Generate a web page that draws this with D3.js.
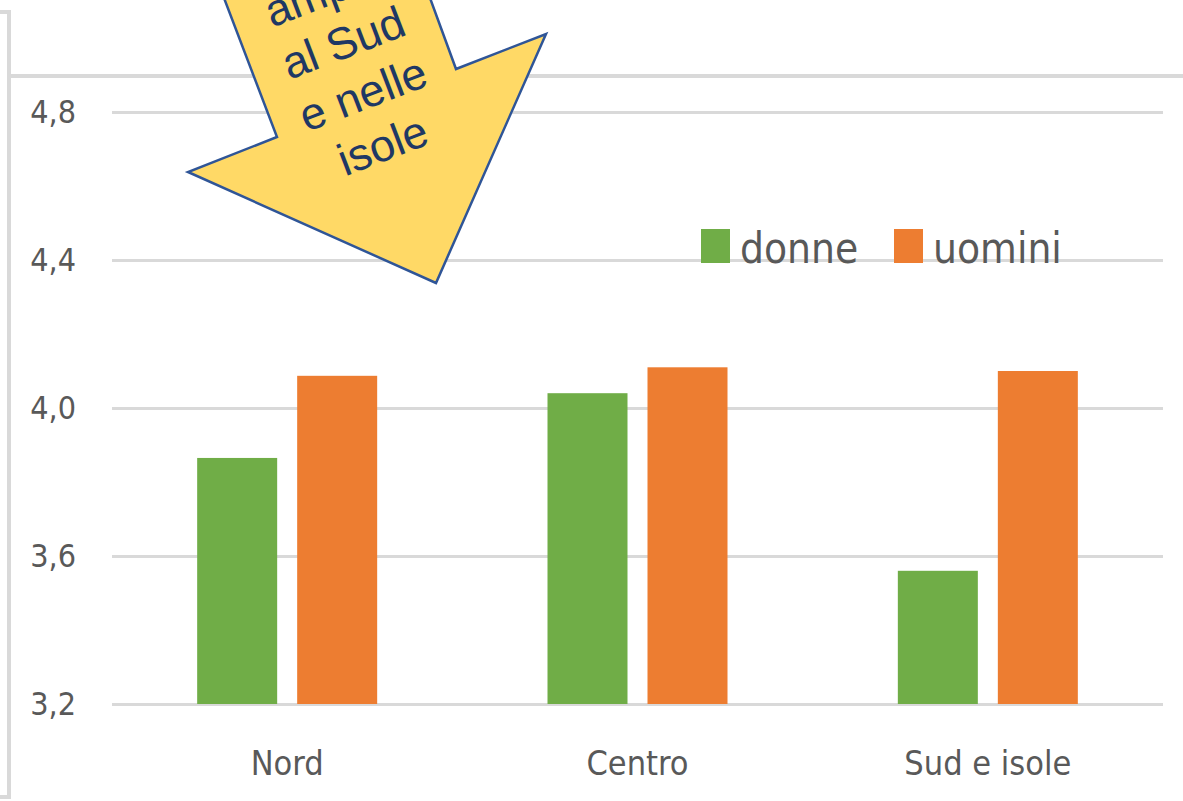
<!DOCTYPE html>
<html>
<head>
<meta charset="utf-8">
<script src="https://cdn.jsdelivr.net/npm/d3@7"></script>
<style>
  body { margin: 0; background: #fff; }
  svg { display: block; }
  .axis text { fill: #595959; font-family: "Liberation Sans Narrow", "DejaVu Sans Condensed", sans-serif; }
  .grid line { stroke: #d9d9d9; stroke-width: 3; }
  .frame { stroke: #d9d9d9; stroke-width: 4; fill: none; }
</style>
</head>
<body>
<div id="chart"></div>
<script>
// data
var categories = ["Nord", "Centro", "Sud e isole"];
var series = ["donne", "uomini"];
var donne = [3.865, 4.04, 3.56];
var uomini = [4.087, 4.11, 4.10];
var yTicks = [3.2, 3.6, 4.0, 4.4, 4.8];
var colors = ["#70ad47", "#ed7d31"];
var arrowLines = ["ampio", "al Sud", "e nelle", "isole"];

var width = 1183, height = 801;
var plot = {left: 112, right: 1163, top: 112, bottom: 704};

var svg = d3.select("#chart").append("svg")
  .attr("width", width)
  .attr("height", height);

// frame of the slide box
svg.append("path")
  .attr("class", "frame")
  .attr("d", "M0,12 H9 V797 H0");
svg.append("line")
  .attr("class", "frame")
  .attr("x1", 9).attr("x2", width)
  .attr("y1", 76).attr("y2", 76);

var x0 = d3.scaleBand().domain(categories).range([plot.left, plot.right]);
var groupW = 180;
var x1 = d3.scaleBand().domain(series).range([0, groupW]).paddingInner(0.2);
var y = d3.scaleLinear().domain([3.2, 4.8]).range([plot.bottom, plot.top]);

var fmt = d3.formatLocale({decimal: ",", thousands: ".", grouping: [3], currency: ["", "€"]}).format(".1f");

var yaxis = d3.axisLeft(y)
  .tickValues(yTicks)
  .tickFormat(fmt)
  .tickSize(-(plot.right - plot.left))
  .tickPadding(36);

svg.append("g")
  .attr("class", "axis grid")
  .attr("transform", "translate(" + plot.left + ",0)")
  .call(yaxis)
  .call(function(g) { g.select(".domain").remove(); })
  .selectAll("text")
  .style("font-size", "32px");

var xaxis = d3.axisBottom(x0).tickSize(0).tickPadding(47);

svg.append("g")
  .attr("class", "axis")
  .attr("transform", "translate(0," + plot.bottom + ")")
  .call(xaxis)
  .call(function(g) { g.select(".domain").remove(); })
  .selectAll("text")
  .style("font-size", "34px");

var rows = categories.map(function(c, i) {
  return {cat: c, values: [donne[i], uomini[i]]};
});

var groups = svg.append("g").selectAll("g")
  .data(rows)
  .enter().append("g")
  .attr("transform", function(d) {
    return "translate(" + (x0(d.cat) + (x0.bandwidth() - groupW) / 2) + ",0)";
  });

groups.selectAll("rect")
  .data(function(d) { return d.values.map(function(v, j) { return {s: series[j], v: v, j: j}; }); })
  .enter().append("rect")
  .attr("x", function(d) { return x1(d.s); })
  .attr("width", x1.bandwidth())
  .attr("y", function(d) { return y(d.v); })
  .attr("height", function(d) { return y(3.2) - y(d.v); })
  .attr("fill", function(d) { return colors[d.j]; });

// legend
var legend = svg.append("g").attr("transform", "translate(701,229)");
var lx = [0, 193];
series.forEach(function(s, i) {
  legend.append("rect")
    .attr("x", lx[i]).attr("y", 0)
    .attr("width", 29).attr("height", 34)
    .attr("fill", colors[i]);
  legend.append("text")
    .attr("x", lx[i] + 39).attr("y", 34)
    .attr("fill", "#595959")
    .style("font-family", "'Liberation Sans Narrow', 'DejaVu Sans Condensed', sans-serif")
    .style("font-size", "42px")
    .text(s);
});

// callout arrow
svg.append("polygon")
  .attr("points", "224,-2 277,137 188,172 436,283 546,34 456,69 430,-2")
  .attr("fill", "#ffd966")
  .attr("stroke", "#2f5597")
  .attr("stroke-width", 2.5)
  .attr("stroke-linejoin", "miter");

var arrowText = svg.append("g")
  .attr("transform", "translate(343,42) rotate(-21)");
arrowLines.forEach(function(t, i) {
  arrowText.append("text")
    .attr("x", 0)
    .attr("y", (i - 1) * 55)
    .attr("dy", "0.36em")
    .attr("text-anchor", "middle")
    .attr("fill", "#1f3864")
    .style("font-family", "'Liberation Sans', Arial, sans-serif")
    .style("font-size", "45px")
    .text(t);
});
</script>
</body>
</html>
